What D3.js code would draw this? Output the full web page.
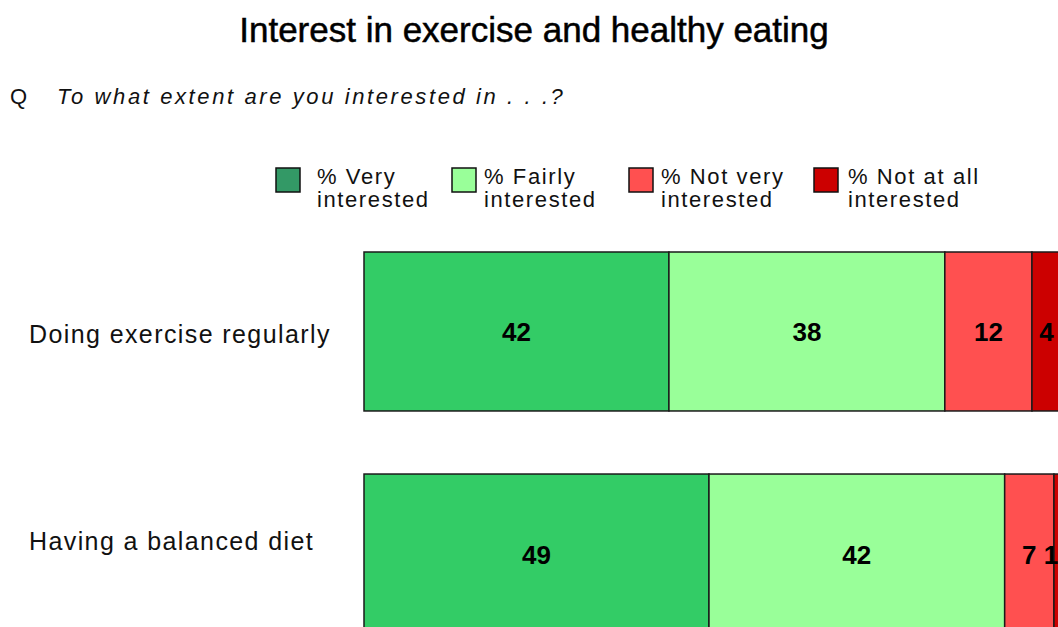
<html>
<head>
<script src="https://cdn.jsdelivr.net/npm/d3@7"></script>
<style>
    body{ margin:0; background:#fff; }
    .title{ font-family:"Liberation Sans", Arial, sans-serif; font-size:35px; fill:#000; stroke:#000; stroke-width:0.5; }
    .question{ font-family:"Liberation Sans", Arial, sans-serif; font-size:22px; fill:#111; }
    .legendtext{ font-family:"Liberation Sans", Arial, sans-serif; font-size:22px; fill:#111; letter-spacing:1.6px; }
    .catlabel{ font-family:"Liberation Sans", Arial, sans-serif; font-size:25px; fill:#111; letter-spacing:1.4px; }
    .vallabel{ font-family:"Liberation Sans", Arial, sans-serif; font-size:26px; font-weight:bold; fill:#000; }
</style>
</head>
<body>
<script>
let w = 1058
let h = 627

// data
let categories = ["Doing exercise regularly", "Having a balanced diet"]
let seriesNames = ["% Very interested", "% Fairly interested", "% Not very interested", "% Not at all interested"]
let veryInterested = [42, 49]
let fairlyInterested = [38, 42]
let notVeryInterested = [12, 7]
let notAtAllInterested = [4, 1]
let legendLines = [["% Very", "interested"], ["% Fairly", "interested"], ["% Not very", "interested"], ["% Not at all", "interested"]]

let barColors = ["#33cc66", "#99ff99", "#ff5050", "#cc0000"]
let swatchColors = ["#339966", "#99ff99", "#ff5050", "#cc0000"]

let rows = categories.map((c, i) => ({
    cat: c,
    s0: veryInterested[i],
    s1: fairlyInterested[i],
    s2: notVeryInterested[i],
    s3: notAtAllInterested[i]
}))
let keys = ["s0", "s1", "s2", "s3"]

let svg = d3.select("body").append("svg")
    .attr("width", w)
    .attr("height", h)

// titles
svg.append("text")
    .attr("class", "title")
    .attr("x", 534).attr("y", 42)
    .attr("text-anchor", "middle")
    .text("Interest in exercise and healthy eating")

let q = svg.append("text").attr("class", "question").attr("x", 10).attr("y", 104)
q.append("tspan").text("Q")
q.append("tspan").attr("x", 57).attr("font-style", "italic").attr("letter-spacing", "2.6px")
    .text("To what extent are you interested in . . .?")

// scales - 100% stacked (totals don't reach 100, bars are normalised)
let stacked = d3.stack().keys(keys).offset(d3.stackOffsetExpand)(rows)
let x = d3.scaleLinear().domain([0, 1]).range([364, 1061])
let y = d3.scaleBand().domain(categories).range([252, 633]).paddingInner(0.284).paddingOuter(0)

let layers = svg.selectAll(".layer")
    .data(stacked)
    .join("g")
    .attr("class", "layer")
    .attr("fill", (d, i) => barColors[i])

layers.selectAll("rect")
    .data(d => d.map(p => ({p: p, key: d.key})))
    .join("rect")
    .attr("x", d => x(d.p[0]))
    .attr("y", d => y(d.p.data.cat))
    .attr("width", d => x(d.p[1]) - x(d.p[0]))
    .attr("height", y.bandwidth())
    .attr("stroke", "#1a1a1a")
    .attr("stroke-width", 1.5)

// keep labels near the right edge inside the picture
layers.selectAll("text")
    .data(d => d.map(p => ({p: p, key: d.key})))
    .join("text")
    .attr("class", "vallabel")
    .attr("x", d => Math.min((x(d.p[0]) + x(d.p[1])) / 2, w - 7))
    .attr("y", d => y(d.p.data.cat) + y.bandwidth() / 2 + 10)
    .attr("text-anchor", "middle")
    .text(d => d.p.data[d.key])

// category labels
svg.selectAll(".catlabel")
    .data(categories)
    .join("text")
    .attr("class", "catlabel")
    .attr("x", 29)
    .attr("y", (d, i) => y(d) + y.bandwidth() / 2 + (i == 0 ? 11.5 : -3.5))
    .text(d => d)

// legend
let legendX = [276, 452, 629, 814]
let legendTextX = [317, 484, 661, 848]
let lg = svg.selectAll(".legend")
    .data(seriesNames)
    .join("g")
    .attr("class", "legend")
lg.append("rect")
    .attr("x", (d, i) => legendX[i])
    .attr("y", 168)
    .attr("width", 24)
    .attr("height", 24)
    .attr("fill", (d, i) => swatchColors[i])
    .attr("stroke", "#111")
    .attr("stroke-width", 1.5)
lg.each(function(d, i){
    let t = d3.select(this).append("text")
        .attr("class", "legendtext")
        .attr("x", legendTextX[i])
        .attr("y", 184)
    t.append("tspan").attr("x", legendTextX[i]).text(legendLines[i][0])
    t.append("tspan").attr("x", legendTextX[i]).attr("dy", 23).text(legendLines[i][1])
})
</script>
</body>
</html>
